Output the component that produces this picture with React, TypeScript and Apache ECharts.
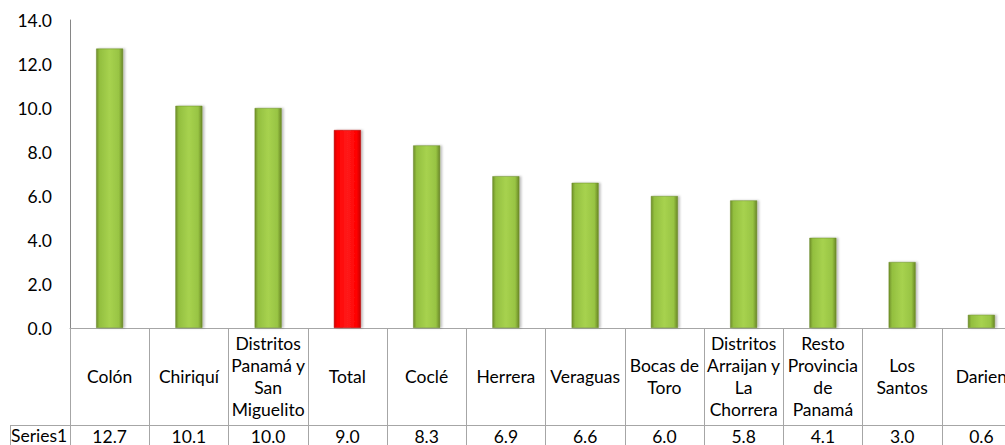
import React, { useEffect, useRef } from "react";
import * as echarts from "echarts";

const categories = [
  "Colón",
  "Chiriquí",
  "Distritos\nPanamá y\nSan\nMiguelito",
  "Total",
  "Coclé",
  "Herrera",
  "Veraguas",
  "Bocas de\nToro",
  "Distritos\nArraijan y\nLa\nChorrera",
  "Resto\nProvincia\nde\nPanamá",
  "Los\nSantos",
  "Darien",
];
const values = [12.7, 10.1, 10.0, 9.0, 8.3, 6.9, 6.6, 6.0, 5.8, 4.1, 3.0, 0.6];
const seriesName = "Series1";
const highlightCategory = "Total";
const yMin = 0;
const yMax = 14;
const yInterval = 2;

const FONT = "Lato, 'Open Sans', sans-serif";
const FS = 17.5;
const GRID_LINE = "#a6a6a6";

const greenGrad = new echarts.graphic.LinearGradient(0, 0, 1, 0, [
  { offset: 0, color: "#6f8e2a" },
  { offset: 0.12, color: "#93bf3f" },
  { offset: 0.5, color: "#a7d24f" },
  { offset: 0.85, color: "#98c443" },
  { offset: 1, color: "#6a8826" },
]);
const redGrad = new echarts.graphic.LinearGradient(0, 0, 1, 0, [
  { offset: 0, color: "#d40000" },
  { offset: 0.12, color: "#ff0000" },
  { offset: 0.5, color: "#ff1a1a" },
  { offset: 0.85, color: "#ff0000" },
  { offset: 1, color: "#c80000" },
]);

export default function App() {
  const ref = useRef<HTMLDivElement>(null);
  useEffect(() => {
    if (!ref.current) return;
    const chart = echarts.init(ref.current, undefined, { renderer: "svg" });
    const option: any = {
      animation: false,
      backgroundColor: "#ffffff",
      grid: { left: 70, top: 20, width: 951, height: 308, containLabel: false },
      xAxis: [
        {
          type: "category",
          data: categories,
          position: "bottom",
          axisLine: { show: true, lineStyle: { color: GRID_LINE, width: 1 } },
          axisTick: { show: true, length: 117, alignWithLabel: false, interval: 0, lineStyle: { color: GRID_LINE } },
          axisLabel: {
            interval: 0,
            margin: 48,
            verticalAlign: "middle",
            lineHeight: 22,
            fontSize: FS,
            fontFamily: FONT,
            color: "#000",
            hideOverlap: false,
          },
          splitLine: { show: false },
        },
        {
          type: "category",
          data: categories,
          position: "bottom",
          offset: 97,
          axisLine: { show: true, lineStyle: { color: GRID_LINE, width: 1 } },
          axisTick: { show: false },
          axisLabel: {
            interval: 0,
            margin: 11,
            verticalAlign: "middle",
            fontSize: FS,
            fontFamily: FONT,
            color: "#000",
            formatter: (_v: string, i: number) => values[i].toFixed(1),
          },
          splitLine: { show: false },
        },
      ],
      yAxis: {
        type: "value",
        min: yMin,
        max: yMax,
        interval: yInterval,
        axisLine: { show: true, lineStyle: { color: "#868686" } },
        axisTick: { show: false },
        splitLine: { show: false },
        axisLabel: {
          margin: 18,
          fontSize: FS,
          fontFamily: FONT,
          color: "#000",
          formatter: (v: number) => v.toFixed(1),
        },
      },
      series: [
        {
          name: seriesName,
          type: "bar",
          xAxisIndex: 0,
          barWidth: 27,
          data: values.map((v, i) => ({
            value: v,
            itemStyle: {
              color: categories[i] === highlightCategory ? redGrad : greenGrad,
              borderColor: categories[i] === highlightCategory ? "#b00000" : "#6a8a2a",
              borderWidth: 0.5,
              shadowColor: "rgba(0,0,0,0.25)",
              shadowOffsetX: 2,
              shadowBlur: 2,
            },
          })),
        },
      ],
      graphic: [
        { type: "line", shape: { x1: 10, y1: 425.5, x2: 70, y2: 425.5 }, style: { stroke: GRID_LINE, lineWidth: 1 } },
        { type: "line", shape: { x1: 10.5, y1: 425, x2: 10.5, y2: 445 }, style: { stroke: GRID_LINE, lineWidth: 1 } },
        {
          type: "text",
          left: 11,
          top: 426,
          style: { text: seriesName, fontSize: FS, fontFamily: FONT, fill: "#000" },
        },
      ],
    };
    chart.setOption(option);
    return () => chart.dispose();
  }, []);
  return (
    <div style={{ position: "fixed", left: 0, top: 0, width: 1005, height: 445, overflow: "hidden", background: "#fff" }}>
      <div ref={ref} style={{ width: 1040, height: 445 }} />
    </div>
  );
}
